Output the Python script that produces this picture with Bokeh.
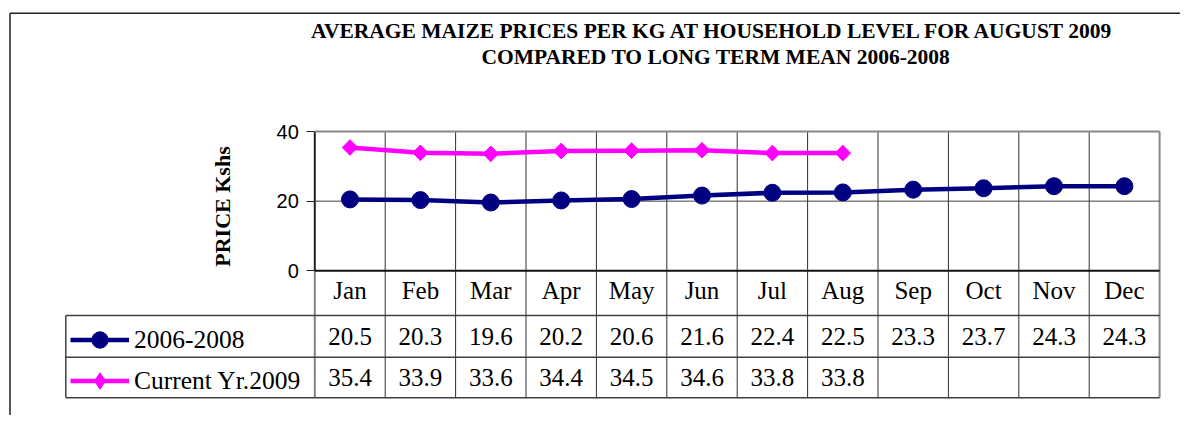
import math
from bokeh.plotting import figure
from bokeh.models import Range1d, FixedTicker, Legend, LegendItem
from bokeh.core.properties import value
from bokeh.embed import file_html
from bokeh.resources import INLINE

# ---------------- data ----------------
months = ["Jan", "Feb", "Mar", "Apr", "May", "Jun", "Jul", "Aug", "Sep", "Oct", "Nov", "Dec"]
mean_2006_2008 = [20.5, 20.3, 19.6, 20.2, 20.6, 21.6, 22.4, 22.5, 23.3, 23.7, 24.3, 24.3]
current_2009 = [35.4, 33.9, 33.6, 34.4, 34.5, 34.6, 33.8, 33.8]
series_names = ["2006-2008", "Current Yr.2009"]
y_ticks = [0, 20, 40]
title_lines = ["AVERAGE  MAIZE PRICES PER KG AT HOUSEHOLD LEVEL FOR AUGUST 2009",
               "COMPARED TO LONG TERM MEAN 2006-2008"]
y_title = "PRICE Kshs"

# ---------------- layout (pixels in the picture) ----------------
W, H = 1180, 415
PX0 = 314.3      # left edge of plot area
COL = 70.4       # column width
PY0 = 270.3      # pixel row of value 0
YS = 3.4825      # pixels per price unit
Y_MAX = 40


def dx(px):
    return (px - (PX0 + COL / 2)) / COL


def dy(py):
    return (PY0 - py) / YS


SERIF = "Liberation Serif"
SANS = "Liberation Sans"
NAVY = "#000080"
MAGENTA = "#FF00FF"

p = figure(width=W, height=H, output_backend="svg", toolbar_location=None,
           x_range=Range1d(dx(0), dx(W)),
           y_range=Range1d(dy(H), dy(0)),
           min_border=0, min_border_left=0, min_border_right=0,
           min_border_top=0, min_border_bottom=0)
p.outline_line_color = None
p.xgrid.visible = False
p.ygrid.visible = False
p.background_fill_color = "white"
p.border_fill_color = "white"

n = len(months)
left = -0.5
right = n - 0.5
row_top = [315.0, 356.7]
table_bottom = 397.3
legend_left_px = 65.3

# ---------------- y axis at the plot's left edge ----------------
ya = p.yaxis[0]
ya.fixed_location = left
ya.ticker = FixedTicker(ticks=y_ticks)
ya.axis_line_color = None
ya.major_tick_in = 0
ya.major_tick_out = 8
ya.major_tick_line_color = "#222222"
ya.major_tick_line_width = 1
ya.minor_tick_line_color = None
ya.major_label_standoff = 8
ya.major_label_text_font = SANS
ya.major_label_text_font_size = "20px"
ya.major_label_text_color = "black"

# ---------------- x axis: month labels inside the table header ----------------
xa = p.xaxis[0]
xa.fixed_location = 0
xa.ticker = FixedTicker(ticks=list(range(n)))
xa.major_label_overrides = {i: m for i, m in enumerate(months)}
xa.axis_line_color = None
xa.major_tick_line_color = None
xa.major_tick_in = 0
xa.major_tick_out = 0
xa.minor_tick_line_color = None
xa.major_label_standoff = 6
xa.major_label_text_font = SERIF
xa.major_label_text_font_size = "25px"
xa.major_label_text_color = "black"

# ---------------- frame / grid / table lines ----------------
yb = dy(table_bottom)
p.segment(x0=[left + k for k in range(1, n)], y0=[yb] * (n - 1),
          x1=[left + k for k in range(1, n)], y1=[Y_MAX] * (n - 1),
          line_color="#303030", line_width=1)
p.segment(x0=[right], y0=[yb], x1=[right], y1=[Y_MAX], line_color="#888888", line_width=2)
p.segment(x0=[left], y0=[yb], x1=[left], y1=[0], line_color="#808080", line_width=2)
p.segment(x0=[left], y0=[0], x1=[left], y1=[Y_MAX], line_color="#202020", line_width=2)
p.segment(x0=[left], y0=[Y_MAX], x1=[right], y1=[Y_MAX], line_color="#888888", line_width=2)
p.segment(x0=[left], y0=[20], x1=[right], y1=[20], line_color="#404040", line_width=1)
p.segment(x0=[left], y0=[0], x1=[right], y1=[0], line_color="#101010", line_width=2)
lx = dx(legend_left_px)
p.segment(x0=[lx, lx, lx], y0=[dy(row_top[0]), dy(row_top[1]), yb],
          x1=[right] * 3, y1=[dy(row_top[0]), dy(row_top[1]), yb],
          line_color="#404040", line_width=1.5)
p.segment(x0=[lx], y0=[dy(row_top[0])], x1=[lx], y1=[yb], line_color="#404040", line_width=1.5)
ob = 9.5
obt = 12.7
p.segment(x0=[dx(ob), dx(ob)], y0=[dy(obt), dy(obt)], x1=[dx(ob), dx(W + 20)],
          y1=[dy(H + 20), dy(obt)], line_color="#202020", line_width=1.5)

# ---------------- series ----------------
xs1 = list(range(n))
xs2 = list(range(len(current_2009)))
l1 = p.line(xs1, mean_2006_2008, line_color=NAVY, line_width=4.5, line_join="round")
s1 = p.scatter(xs1, mean_2006_2008, marker="circle", size=17, fill_color=NAVY, line_color=NAVY)
l2 = p.line(xs2, current_2009, line_color=MAGENTA, line_width=4.5, line_join="round")
s2k = p.scatter(xs2, current_2009, marker="diamond", size=15, fill_color=MAGENTA, line_color=MAGENTA)
s2 = p.scatter(xs2, current_2009, marker="square", angle=math.pi / 4, size=11,
               fill_color=MAGENTA, line_color=MAGENTA)

# ---------------- data table values ----------------
row_base = [336.0, 376.5]
p.text(x=xs1, y=[dy(row_base[0])] * n, text=["%.1f" % v for v in mean_2006_2008],
       text_align="center", text_baseline="alphabetic",
       text_font=value(SERIF), text_font_size="25px", text_color="black")
p.text(x=xs2, y=[dy(row_base[1])] * len(xs2), text=["%.1f" % v for v in current_2009],
       text_align="center", text_baseline="alphabetic",
       text_font=value(SERIF), text_font_size="25px", text_color="black")

# ---------------- titles ----------------
p.text(x=[dx(715.5), dx(715.5)], y=[dy(30.0), dy(56.0)], text=title_lines,
       text_align="center", text_baseline="alphabetic",
       text_font=value(SERIF), text_font_style="bold", text_font_size="21.5px", text_color="black")
p.text(x=[dx(222)], y=[dy(206)], text=[y_title], angle=math.pi / 2,
       text_align="center", text_baseline="middle",
       text_font=value(SERIF), text_font_style="bold", text_font_size="22px", text_color="black")

# ---------------- legend in the table's first column ----------------
legend = Legend(items=[LegendItem(label=series_names[0], renderers=[l1, s1]),
                       LegendItem(label=series_names[1], renderers=[l2, s2k])],
                location=(70, H - 401.0),
                border_line_color=None, background_fill_alpha=0,
                padding=0, margin=0, spacing=0,
                glyph_width=59, glyph_height=41, label_height=41, label_standoff=5,
                label_text_font=SERIF, label_text_font_size="25.5px", label_text_color="black")
p.add_layout(legend)

open("out.html", "w").write(file_html(p, INLINE))
